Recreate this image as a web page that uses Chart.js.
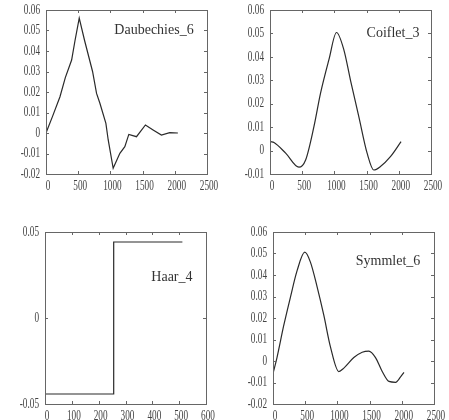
<!DOCTYPE html>
<html>
<head>
<meta charset="utf-8">
<script src="https://cdn.jsdelivr.net/npm/chart.js@4"></script>
<style>
  body { margin: 0; background: #fff; }
  #wrap { position: relative; width: 449px; height: 420px; }
  .cell { position: absolute; }
</style>
</head>
<body>
<div id="wrap">
  <div class="cell" style="left:0;top:0"><canvas id="c1" width="224" height="210"></canvas></div>
  <div class="cell" style="left:224px;top:0"><canvas id="c2" width="225" height="210"></canvas></div>
  <div class="cell" style="left:0;top:210px"><canvas id="c3" width="224" height="210"></canvas></div>
  <div class="cell" style="left:224px;top:210px"><canvas id="c4" width="225" height="210"></canvas></div>
</div>
<script>
// Daubechies_6 (piecewise, fairly jagged)
const daubX = [0, 100, 217, 300, 398, 450, 516, 600, 723, 785, 837, 930, 966, 1043, 1147, 1224, 1286, 1405, 1544, 1663, 1792, 1921, 2048];
const daubY = [0, 0.008, 0.0177, 0.027, 0.0356, 0.045, 0.056, 0.045, 0.030, 0.0193, 0.0145, 0.0047, -0.0034, -0.0172, -0.0099, -0.0067, -0.0007, -0.0018, 0.0039, 0.0015, -0.001, 0.0002, 0];

// Coiflet_3 (smooth)
const coifX = [10, 62, 243, 449, 553, 682, 785, 914, 1033, 1147, 1250, 1379, 1508, 1612, 1715, 1870, 2035];
const coifY = [0.0038, 0.0034, -0.0011, -0.0071, -0.004, 0.0102, 0.0245, 0.0387, 0.0504, 0.043, 0.030, 0.0145, -0.0011, -0.0083, -0.0068, -0.0026, 0.0038];

// Haar_4 (step)
const haarX = [0, 256, 512];
const haarY = [-0.0442, 0.0442, 0.0442];

// Symmlet_6 (smooth)
const symX = [0, 62, 166, 270, 373, 493, 581, 685, 788, 892, 1022, 1100, 1255, 1385, 1488, 1592, 1696, 1800, 1904, 1981, 2033];
const symY = [-0.0058, 0.0016, 0.0164, 0.0296, 0.0419, 0.0506, 0.046, 0.0345, 0.0214, 0.0066, -0.0049, -0.0033, 0.0016, 0.0041, 0.0046, 0.0016, -0.0049, -0.0095, -0.0099, -0.0074, -0.0053];

// panel names and where their label sits (data coords)
const names = ["Daubechies_6", "Coiflet_3", "Haar_4", "Symmlet_6"];
const nameX = [1677, 1910, 473, 1786];
const nameY = [0.0502, 0.0502, 0.0235, 0.0462];

// axis ranges: [min, max, step]
const xRanges = [[0, 2500, 500], [0, 2500, 500], [0, 600, 100], [0, 2500, 500]];
const yRanges = [[-0.02, 0.06, 0.01], [-0.01, 0.06, 0.01], [-0.05, 0.05, 0.05], [-0.02, 0.06, 0.01]];

const TEXT = "#444";
const FRAME = "#666";

function fmtY(v) {
  if (Math.abs(v) < 1e-9) return "0";
  return v.toFixed(2);
}

// frame, inward ticks, squeezed tick labels and panel name
const matlabAxes = {
  id: "matlabAxes",
  afterDraw(chart) {
    const ctx = chart.ctx;
    const a = chart.chartArea;
    const xs = chart.scales.x, ys = chart.scales.y;
    const opt = chart.options.plugins.matlabAxes;
    ctx.save();
    ctx.strokeStyle = FRAME;
    ctx.lineWidth = 1;
    ctx.strokeRect(Math.round(a.left) + 0.5, Math.round(a.top) + 0.5,
      Math.round(a.right - a.left), Math.round(a.bottom - a.top));

    ctx.beginPath();
    xs.ticks.forEach(t => {
      const px = Math.round(xs.getPixelForValue(t.value)) + 0.5;
      ctx.moveTo(px, a.bottom); ctx.lineTo(px, a.bottom - 3);
      ctx.moveTo(px, a.top); ctx.lineTo(px, a.top + 3);
    });
    ys.ticks.forEach(t => {
      const py = Math.round(ys.getPixelForValue(t.value)) + 0.5;
      ctx.moveTo(a.left, py); ctx.lineTo(a.left + 3, py);
      ctx.moveTo(a.right, py); ctx.lineTo(a.right - 3, py);
    });
    ctx.stroke();

    ctx.fillStyle = TEXT;
    ctx.font = "14px 'Liberation Serif'";
    const sq = 0.66;
    ctx.textBaseline = "top";
    ctx.textAlign = "center";
    xs.ticks.forEach(t => {
      const px = xs.getPixelForValue(t.value);
      ctx.save();
      ctx.translate(px + 2, a.bottom + 5);
      ctx.scale(sq, 1);
      ctx.fillText(String(Math.round(t.value)), 0, 0);
      ctx.restore();
    });
    ctx.textBaseline = "middle";
    ctx.textAlign = "right";
    ys.ticks.forEach(t => {
      const py = ys.getPixelForValue(t.value);
      ctx.save();
      ctx.translate(a.left - 6, py);
      ctx.scale(sq, 1);
      ctx.fillText(fmtY(t.value), 0, 0);
      ctx.restore();
    });

    ctx.fillStyle = "#333";
    ctx.font = "14px 'Liberation Serif'";
    ctx.textAlign = "center";
    ctx.fillText(opt.name, xs.getPixelForValue(opt.nx), ys.getPixelForValue(opt.ny));
    ctx.restore();
  }
};

function makePanel(i, xd, yd, pad, extra) {
  const pts = xd.map((x, k) => ({ x: x, y: yd[k] }));
  const xr = xRanges[i], yr = yRanges[i];
  new Chart(document.getElementById("c" + (i + 1)), {
    type: "scatter",
    data: {
      datasets: [Object.assign({
        data: pts,
        showLine: true,
        borderColor: "#2a2a2a",
        borderWidth: 1.2,
        pointRadius: 0,
        fill: false
      }, extra)]
    },
    options: {
      responsive: false,
      animation: false,
      layout: { padding: pad },
      plugins: {
        legend: { display: false },
        tooltip: { enabled: false },
        matlabAxes: { name: names[i], nx: nameX[i], ny: nameY[i] }
      },
      scales: {
        x: {
          type: "linear", min: xr[0], max: xr[1],
          ticks: { display: false, stepSize: xr[2] },
          grid: { display: false, drawTicks: false },
          border: { display: false }
        },
        y: {
          min: yr[0], max: yr[1],
          ticks: { display: false, stepSize: yr[2] },
          grid: { display: false, drawTicks: false },
          border: { display: false }
        }
      }
    },
    plugins: [matlabAxes]
  });
}

makePanel(0, daubX, daubY, { left: 46, top: 10, right: 17, bottom: 36 }, { tension: 0 });
makePanel(1, coifX, coifY, { left: 46, top: 10, right: 18, bottom: 36 }, { tension: 0.4, cubicInterpolationMode: "monotone" });
makePanel(2, haarX, haarY, { left: 45, top: 22, right: 18, bottom: 16 }, { stepped: true });
makePanel(3, symX, symY, { left: 49, top: 22, right: 15, bottom: 16 }, { tension: 0.4, cubicInterpolationMode: "monotone" });
</script>
</body>
</html>
